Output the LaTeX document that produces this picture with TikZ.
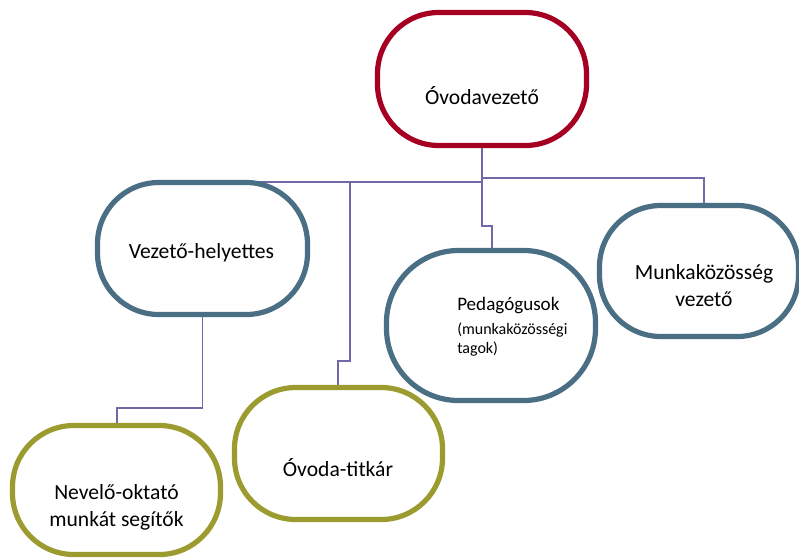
\documentclass[tikz,border=0pt]{standalone}
\usepackage{fontspec}
\setmainfont{Carlito}
\usetikzlibrary{backgrounds}
\definecolor{cred}{RGB}{165,0,33}
\definecolor{cblue}{RGB}{74,110,132}
\definecolor{colive}{RGB}{155,155,48}
\definecolor{cline}{RGB}{112,104,168}
\tikzset{
  box/.style={draw, line width=3.9pt, rounded corners=46pt, inner sep=0pt, outer sep=0pt, fill=white},
  conn/.style={draw=cline, line width=1.1pt},
  lbl/.style={anchor=base, inner sep=0pt, font=\fontsize{16.2}{19}\selectfont},
  lbls/.style={anchor=base west, inner sep=0pt}
}
\begin{document}
\begin{tikzpicture}[x=0.75pt, y=-0.75pt]
\useasboundingbox (0,0) rectangle (799,558);
% boxes
\node[box, draw=cred, minimum width=156.75pt, minimum height=99.75pt] (A) at (482,79) {};
\node[box, draw=cblue, minimum width=157.5pt, minimum height=99pt] (B) at (202.5,248.5) {};
\node[box, draw=cblue, rounded corners=54pt, minimum width=156.75pt, minimum height=112.5pt] (C) at (491,325.5) {};
\node[box, draw=cblue, minimum width=149.25pt, minimum height=98.25pt] (D) at (699,271) {};
\node[box, draw=colive, minimum width=156pt, minimum height=96.75pt] (E) at (116.5,490) {};
\node[box, draw=colive, minimum width=156pt, minimum height=99pt] (F) at (338.5,453.5) {};
% connectors
\coordinate (d1) at (704,178);
\coordinate (j1) at (482,182);
\coordinate (c1) at (482,226);
\coordinate (c2) at (492,226);
\coordinate (t1) at (350,182);
\coordinate (t2) at (350,361);
\coordinate (t3) at (338,361);
\coordinate (b1) at (202.5,408);
\coordinate (b2) at (117,408);
\begin{scope}[on background layer]
\fill[white] (0,0) rectangle (799,558);
\draw[conn] (A.south) |- (d1) -- (d1 |- D.north);
\draw[conn] (A.south) -- (c1) -- (c2) -- (c2 |- C.north);
\draw[conn] (j1) -- (j1 -| B.north);
\draw[conn] (t1) -- (t2) -- (t3) -- (t3 |- F.north);
\draw[conn] (B.south) -- (b1) -- (b2) -- (b2 |- E.north);
\end{scope}
% labels
\node[lbl] (tA) at (482,104.3) {Óvodavezető};
\node[lbl] (tB) at (201.5,258.3) {Vezető-helyettes};
\node[lbls, font=\fontsize{14.3}{17}\selectfont] (tC1) at (457,310.7) {Pedagógusok};
\node[lbls, font=\fontsize{12}{14}\selectfont] (tC2) at (457,334) {(munkaközösségi};
\node[lbls, font=\fontsize{12}{14}\selectfont] (tC3) at (457,353) {tagok)};
\node[lbl] (tD1) at (704,279.3) {Munkaközösség};
\node[lbl] (tD2) at (704,306.7) {vezető};
\node[lbl] (tE1) at (116.5,499.3) {Nevelő-oktató};
\node[lbl] (tE2) at (116.5,526.7) {munkát segítők};
\node[lbl] (tF) at (338,476.7) {Óvoda-titkár};
\end{tikzpicture}
\end{document}
